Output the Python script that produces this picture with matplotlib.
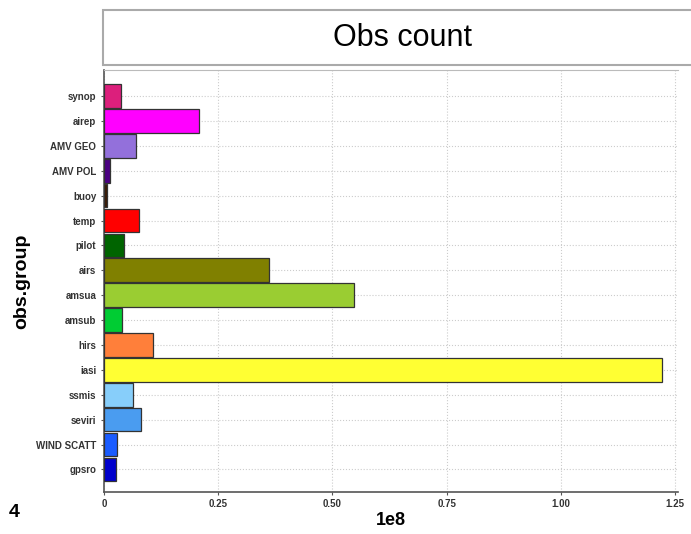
import matplotlib
matplotlib.use("Agg")
from matplotlib import pyplot as plt
from matplotlib.patches import Rectangle

plt.rcParams['font.family'] = ['Liberation Sans', 'DejaVu Sans']

groups = ['synop', 'airep', 'AMV GEO', 'AMV POL', 'buoy', 'temp', 'pilot', 'airs',
          'amsua', 'amsub', 'hirs', 'iasi', 'ssmis', 'seviri', 'WIND SCATT', 'gpsro']
counts = [0.037, 0.207, 0.071, 0.013, 0.006, 0.076, 0.043, 0.361,
          0.546, 0.039, 0.108, 1.222, 0.063, 0.082, 0.028, 0.026]   # in 1e8
colors = ['#dc1f7c', '#ff00ff', '#9370db', '#4b0082', '#3a1a05', '#ff0000', '#006400', '#808000',
          '#9acd32', '#00cc33', '#ff7f3a', '#ffff33', '#87cefa', '#4a9cf0', '#1a5cff', '#0000cc']
xticks = [0, 0.25, 0.5, 0.75, 1.0, 1.25]
xticklabels = ['0', '0.25', '0.50', '0.75', '1.00', '1.25']

fig = plt.figure(figsize=(6.91, 5.34), dpi=100)
ax = fig.add_axes([0.1505, 0.079, 0.83, 0.79])

ypos = list(range(len(groups)))
ax.barh(ypos, counts, height=0.95, color=colors, edgecolor='#333333', linewidth=0.9, zorder=3)

ax.set_yticks(ypos)
ax.set_yticklabels(groups, fontsize=7, fontweight='bold', color='#333333')
ax.set_ylim(15.9, -1.05)
ax.set_xlim(0, 1.255)
ax.set_xticks(xticks)
ax.set_xticklabels(xticklabels, fontsize=7, fontweight='bold', color='#333333')
ax.tick_params(length=2, color='#555555')

ax.grid(True, color='#cccccc', linestyle=':', linewidth=0.8, zorder=0)
ax.spines['right'].set_visible(False)
ax.spines['top'].set_color('#bbbbbb')
ax.spines['left'].set_color('#555555')
ax.spines['bottom'].set_color('#555555')
ax.spines['left'].set_linewidth(1.2)
ax.spines['bottom'].set_linewidth(1.2)

ax.set_ylabel('obs.group', fontsize=14, fontweight='bold', labelpad=4)
ax.set_xlabel('1e8', fontsize=13, fontweight='bold', labelpad=2)

# strip header like a facet title
strip = Rectangle((0.149, 0.878), 0.86, 0.103, transform=fig.transFigure,
                  facecolor='white', edgecolor='#aaaaaa', linewidth=1.5)
fig.patches.append(strip)
fig.text(0.582, 0.929, 'Obs count', fontsize=22, ha='center', va='center')

fig.text(0.012, 0.04, '4', fontsize=14, fontweight='bold', ha='left', va='center')

plt.savefig('out.png', dpi=100)
